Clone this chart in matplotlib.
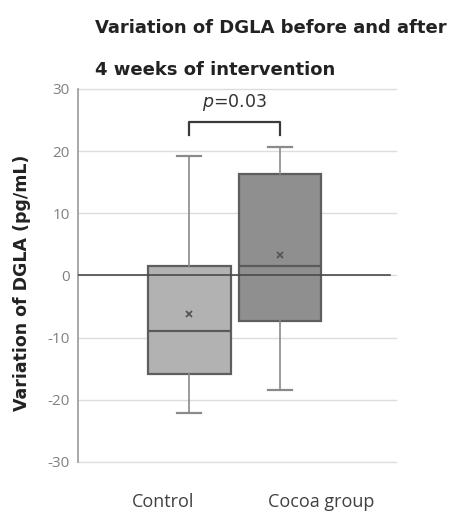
import matplotlib
matplotlib.use("Agg")
import matplotlib.pyplot as plt

plt.rcParams["axes.unicode_minus"] = False

groups = ["Control", "Cocoa group"]
whislo = [-22.1, -18.5]
q1 = [-15.9, -7.3]
med = [-8.9, 1.5]
q3 = [1.6, 16.4]
whishi = [19.2, 20.7]
means = [-6.2, 3.3]
fills = ["#b2b2b2", "#8f8f8f"]
p_text = "=0.03"

fig = plt.figure(figsize=(4.6, 5.12), dpi=100)
ax = fig.add_axes([0.170, 0.0977, 0.691, 0.7285])

positions = [1, 2]
stats = []
for i in range(2):
    stats.append(dict(whislo=whislo[i], q1=q1[i], med=med[i], q3=q3[i],
                      whishi=whishi[i], mean=means[i], fliers=[], label=groups[i]))

bp = ax.bxp(stats, positions=positions, widths=0.91, capwidths=0.26,
            showmeans=True, meanline=False, patch_artist=True, showfliers=False,
            boxprops=dict(edgecolor="#5e5e5e", linewidth=1.6),
            medianprops=dict(color="#5a5a5a", linewidth=1.6),
            whiskerprops=dict(color="#8a8a8a", linewidth=1.2),
            capprops=dict(color="#8a8a8a", linewidth=1.6),
            meanprops=dict(marker="x", markeredgecolor="#555555", markersize=5,
                           markeredgewidth=1.3), zorder=3)
for patch, c in zip(bp["boxes"], fills):
    patch.set_facecolor(c)

ax.set_xlim(-0.22, 3.275)
ax.set_ylim(-30, 30)
ax.set_yticks(range(-30, 31, 10))
for gl_y in range(-30, 31, 10):
    ax.axhline(gl_y, color="#dcdcdc", linewidth=1.0, zorder=0, clip_on=False)
ax.axhline(0, xmin=0, xmax=0.98, color="#4a4a4a", linewidth=1.2, zorder=4)

for s in ["top", "right", "bottom"]:
    ax.spines[s].set_visible(False)
ax.spines["left"].set_color("#9a9a9a")
ax.spines["left"].set_linewidth(1.2)

ax.tick_params(axis="y", length=0, labelsize=11, labelcolor="#808080", pad=6)
for lab in ax.get_yticklabels():
    lab.set_family(["Open Sans", "DejaVu Sans"])
ax.set_xticks([0.714, 2.45])
ax.set_xticklabels(groups, fontsize=13, color="#404040", family=["Open Sans", "DejaVu Sans"])
ax.tick_params(axis="x", length=0, pad=22)

# significance bracket
ax.plot([1, 1, 2, 2], [22.6, 24.7, 24.7, 22.6], color="#3a3a3a", linewidth=1.6, zorder=5)
ax.text(1.5, 27.9, "$\\it{p}$" + p_text, ha="center", va="center", fontsize=12.5, color="#333333")

title_font = ["DejaVu Sans"]
fig.text(95/460, 1 - 28/512, "Variation of DGLA before and after", ha="left", va="center",
         fontsize=13, fontweight="bold", color="#222222", family=title_font)
fig.text(95/460, 1 - 70/512, "4 weeks of intervention", ha="left", va="center",
         fontsize=13, fontweight="bold", color="#222222", family=title_font)
fig.text(22/460, 1 - 283/512, "Variation of DGLA (pg/mL)", rotation=90, ha="center", va="center",
         fontsize=12.5, fontweight="bold", color="#222222", family=title_font)

fig.savefig("out.png", dpi=100, facecolor="white")
